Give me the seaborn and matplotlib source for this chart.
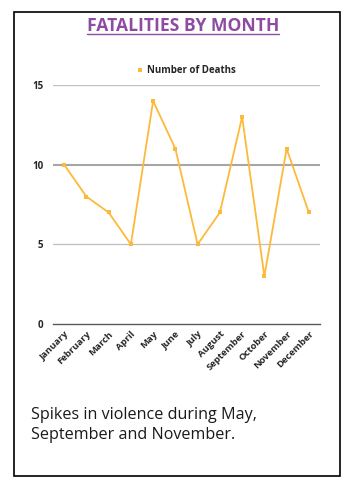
import numpy as np
import pandas as pd
import matplotlib.pyplot as plt
import seaborn as sns
from matplotlib.patches import Rectangle

# data
months = ["January", "February", "March", "April", "May", "June",
          "July", "August", "September", "October", "November", "December"]
deaths = [10, 8, 7, 5, 14, 11, 5, 7, 13, 3, 11, 7]
y_ticks = [0, 5, 10, 15]

df = pd.DataFrame({"Month": months, "Number of Deaths": deaths})

sns.set_theme(style="white")
plt.rcParams['font.family'] = ['Open Sans', 'DejaVu Sans']

line_col = "#FDBA3A"
fig = plt.figure(figsize=(3.61, 5.01), dpi=100)

# outer frame
fig.patches.append(Rectangle((14 / 361, 1 - 476 / 501), 326 / 361, 464 / 501,
                             transform=fig.transFigure, fill=False,
                             edgecolor="black", linewidth=1.2))

ax = fig.add_axes([53 / 361, 1 - 324 / 501, 267 / 361, 239 / 501])
sns.lineplot(data=df, x="Month", y="Number of Deaths", ax=ax, color=line_col,
             linewidth=1.3, marker="s", markersize=3, markeredgewidth=0,
             sort=False, label="Number of Deaths")

ax.set_ylim(0, 15)
ax.set_xlim(-0.5, 11.5)
ax.set_yticks(y_ticks)
ax.set_yticklabels([str(t) for t in y_ticks], fontsize=7, fontweight="bold")
ax.set_xticks(range(len(months)))
ax.set_xticklabels(months, rotation=45, ha="right", rotation_mode="anchor",
                   fontsize=6.8, fontweight="bold")
ax.tick_params(axis="x", length=0, pad=4)
ax.tick_params(axis="y", length=0, pad=7)
ax.set_xlabel("")
ax.set_ylabel("")
for t in [5, 15]:
    ax.axhline(t, color="#BFBFBF", linewidth=0.9, zorder=0)
ax.axhline(10, color="#A6A6A6", linewidth=1.5, zorder=0)
for s in ["top", "right", "left"]:
    ax.spines[s].set_visible(False)
ax.spines["bottom"].set_color("#595959")
ax.spines["bottom"].set_linewidth(1.0)

leg = ax.legend(loc="lower center", bbox_to_anchor=(0.5, 1.0), frameon=False,
                handlelength=0.6, handletextpad=0.4,
                prop={"weight": "bold", "size": 7})
for h in leg.get_lines():
    h.set_linestyle("none")
    h.set_marker("s")
    h.set_markersize(3)

fig.text(183 / 361, 1 - 26 / 501, "FATALITIES BY MONTH", ha="center", va="center",
         fontsize=12.6, fontweight="bold", color="#8E4BA1")
fig.add_artist(plt.Line2D([87 / 361, 279 / 361], [1 - 34 / 501, 1 - 34 / 501],
                          transform=fig.transFigure, color="#8E4BA1", linewidth=1))

fig.text(31 / 361, 1 - 425 / 501, "Spikes in violence during May,\nSeptember and November.",
         ha="left", va="center", fontsize=11.6, color="#1A1A1A", linespacing=1.35)

fig.savefig("out.png", dpi=100)
